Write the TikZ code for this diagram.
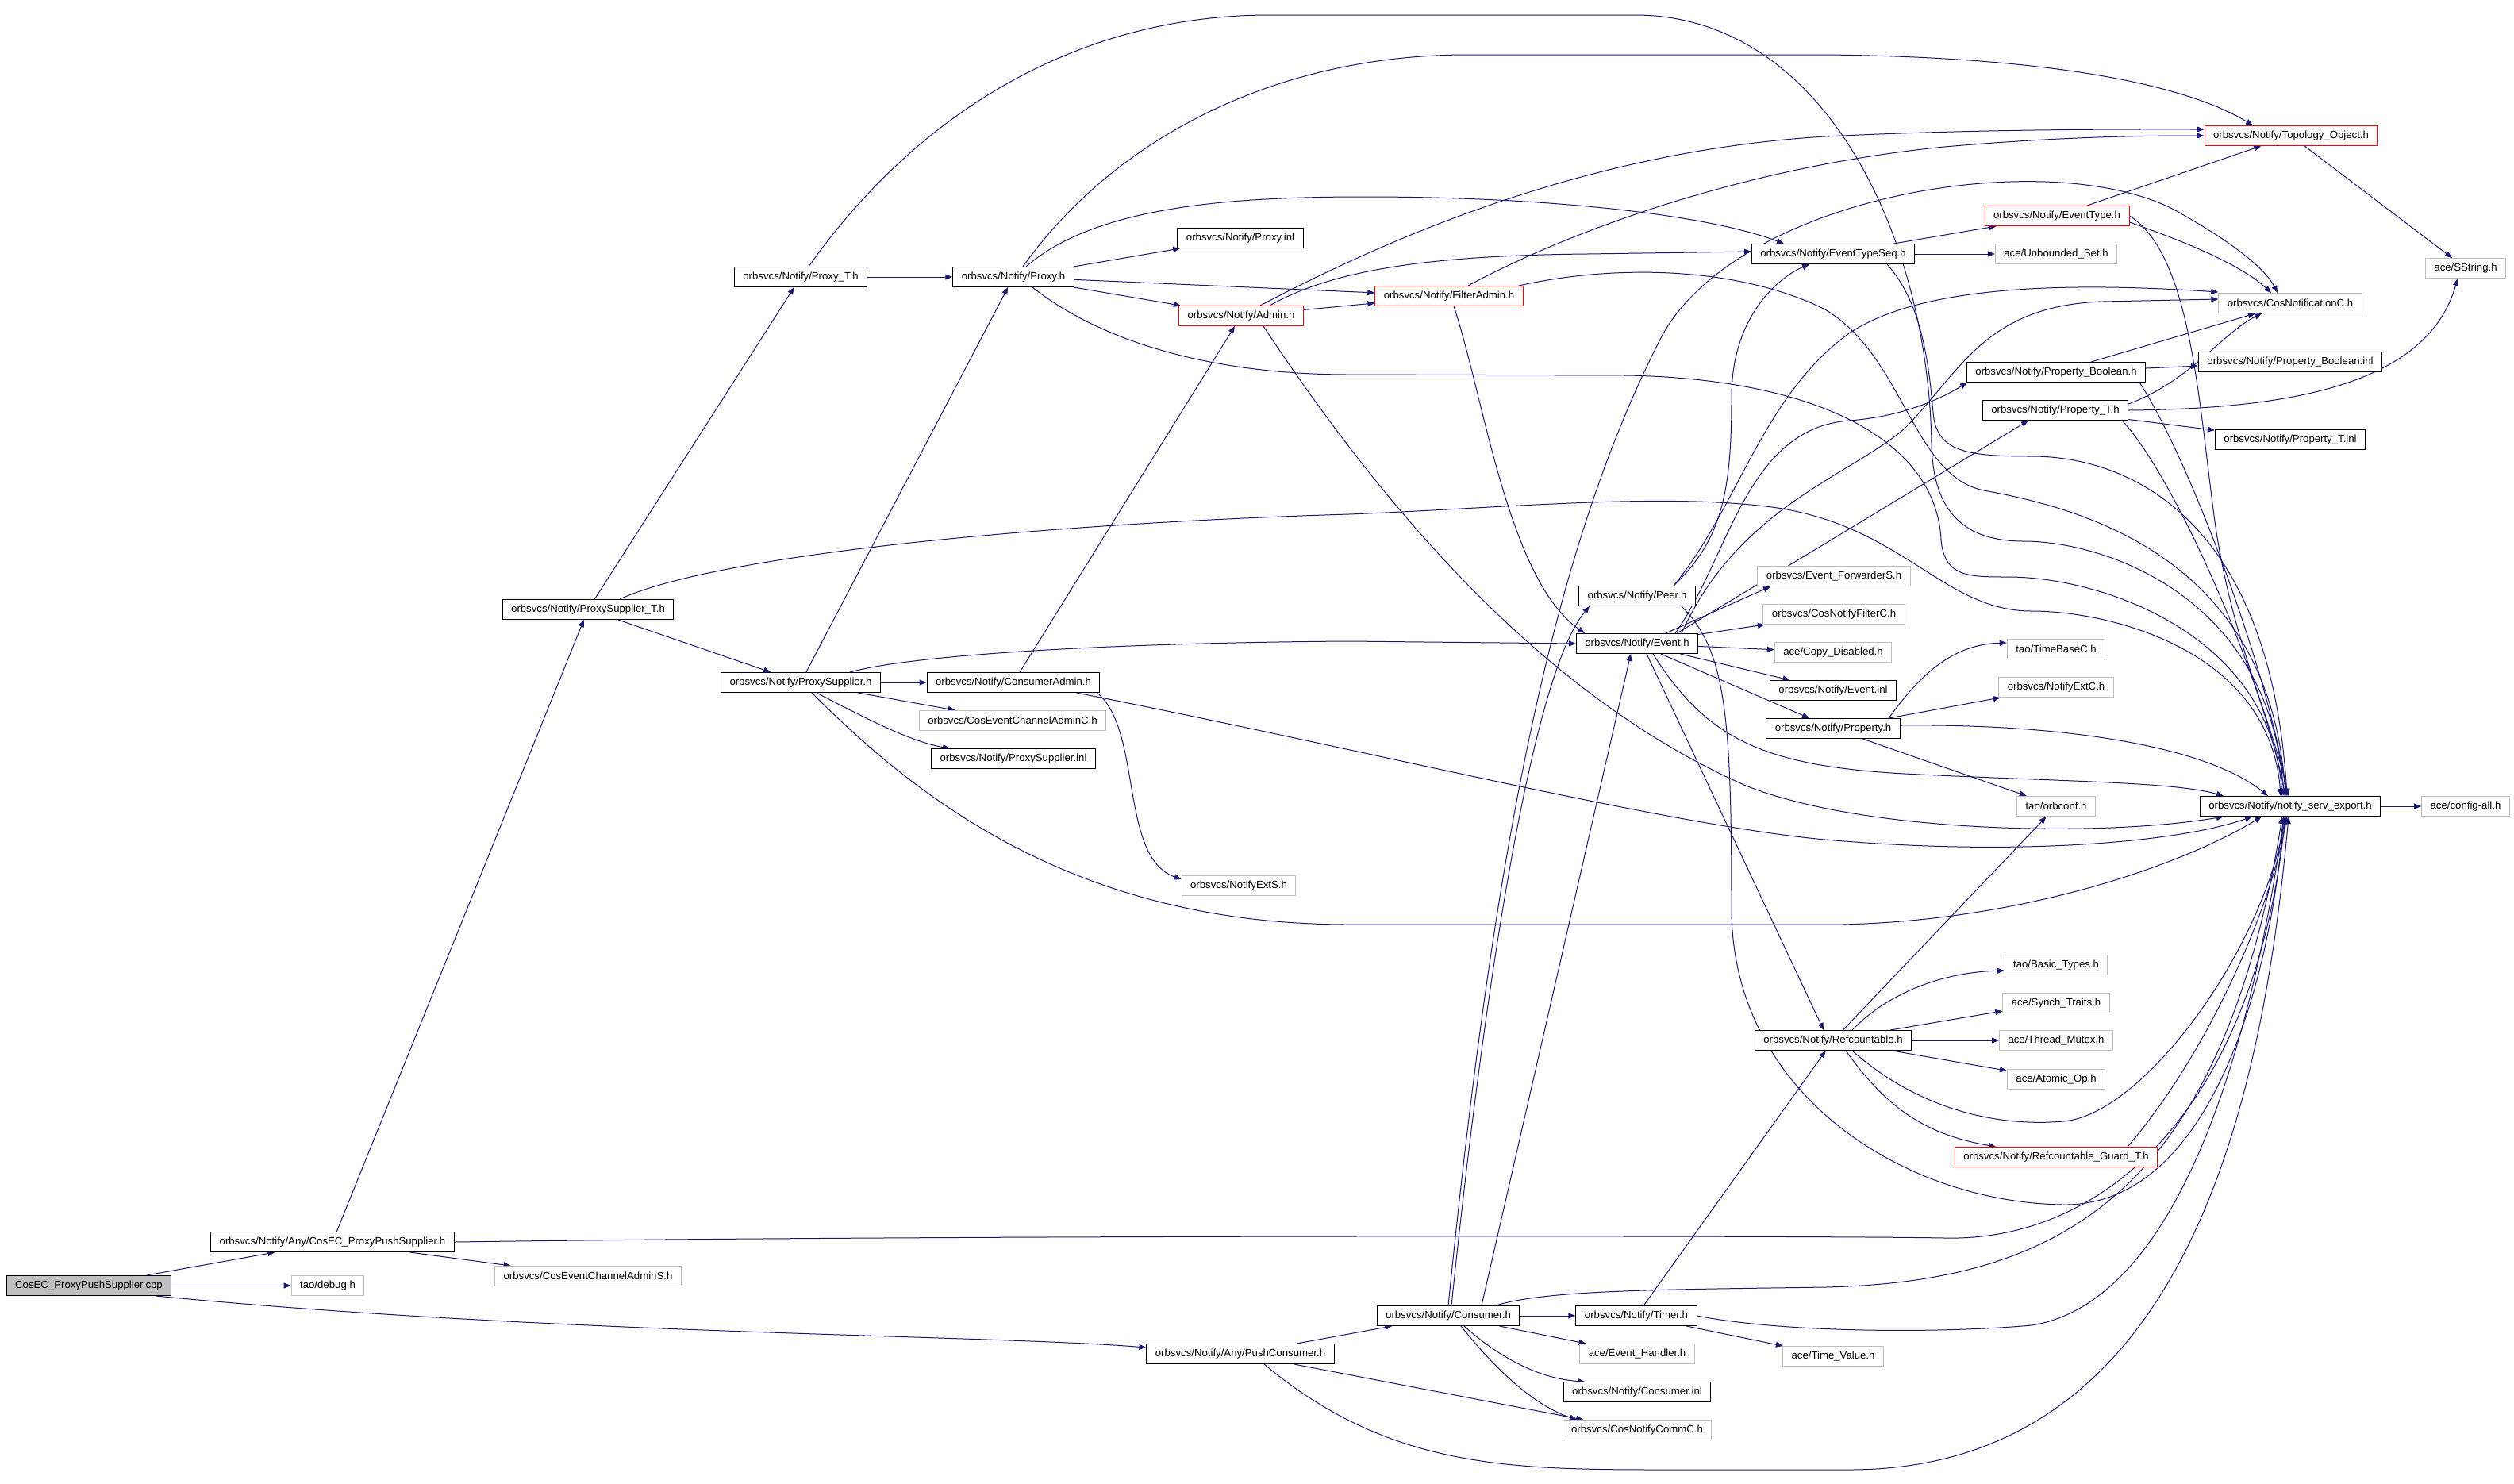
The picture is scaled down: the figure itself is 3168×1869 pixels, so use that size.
\documentclass[tikz,border=0pt]{standalone}
\usepackage{fontspec}
\setmainfont{Liberation Sans}
\usetikzlibrary{arrows.meta,backgrounds}

\definecolor{incblue}{HTML}{191970}
\definecolor{boxgray}{HTML}{BFBFBF}

\tikzset{
  hdr/.style={draw=black, line width=0.5pt, fill=white, inner xsep=5.5pt, inner ysep=0pt,
    minimum height=12.5pt, font=\fontsize{6.6}{7.5}\selectfont},
  ext/.style={hdr, draw=boxgray},
  redhdr/.style={hdr, draw=red},
  root/.style={hdr, fill=boxgray},
  incl/.style={draw=incblue, line width=0.5pt, -{Triangle[length=4.5pt,width=3.5pt]}}
}

\begin{document}
\begin{tikzpicture}[x=0.5pt,y=-0.5pt]
  \useasboundingbox (0,0) rectangle (3168,1869);

  % files
  \node[root] (cpp) at (112,1620) {CosEC\_ProxyPushSupplier.cpp};
  \node[hdr] (anypps) at (419,1565) {orbsvcs/Notify/Any/CosEC\_ProxyPushSupplier.h};
  \node[ext] (debug) at (413,1620) {tao/debug.h};
  \node[ext] (ecas) at (741,1608) {orbsvcs/CosEventChannelAdminS.h};
  \node[hdr] (pushc) at (1563,1706) {orbsvcs/Notify/Any/PushConsumer.h};
  \node[hdr] (psupt) at (741,768) {orbsvcs/Notify/ProxySupplier\_T.h};
  \node[hdr] (proxyt) at (1009,349) {orbsvcs/Notify/Proxy\_T.h};
  \node[hdr] (proxy) at (1277,349) {orbsvcs/Notify/Proxy.h};
  \node[hdr] (proxyinl) at (1563,300) {orbsvcs/Notify/Proxy.inl};
  \node[redhdr] (admin) at (1564,398) {orbsvcs/Notify/Admin.h};
  \node[redhdr] (fadmin) at (1826,373) {orbsvcs/Notify/FilterAdmin.h};
  \node[hdr] (etseq) at (2310,320) {orbsvcs/Notify/EventTypeSeq.h};
  \node[redhdr] (etype) at (2592,272) {orbsvcs/Notify/EventType.h};
  \node[redhdr] (topo) at (2887,171) {orbsvcs/Notify/Topology\_Object.h};
  \node[ext] (sstr) at (3107,338) {ace/SString.h};
  \node[ext] (uset) at (2591,320) {ace/Unbounded\_Set.h};
  \node[ext] (cnc) at (2886,382) {orbsvcs/CosNotificationC.h};
  \node[hdr] (pbool) at (2591,469) {orbsvcs/Notify/Property\_Boolean.h};
  \node[hdr] (pboolinl) at (2886,456) {orbsvcs/Notify/Property\_Boolean.inl};
  \node[hdr] (propt) at (2590,517) {orbsvcs/Notify/Property\_T.h};
  \node[hdr] (proptinl) at (2886,554) {orbsvcs/Notify/Property\_T.inl};
  \node[hdr] (psup) at (1009,860) {orbsvcs/Notify/ProxySupplier.h};
  \node[hdr] (cadmin) at (1277,860) {orbsvcs/Notify/ConsumerAdmin.h};
  \node[ext] (ecac) at (1276,908) {orbsvcs/CosEventChannelAdminC.h};
  \node[hdr] (psupinl) at (1277,956) {orbsvcs/Notify/ProxySupplier.inl};
  \node[ext] (nexts) at (1561,1116) {orbsvcs/NotifyExtS.h};
  \node[hdr] (peer) at (2063,751) {orbsvcs/Notify/Peer.h};
  \node[hdr] (event) at (2063,811) {orbsvcs/Notify/Event.h};
  \node[ext] (efwd) at (2311,726) {orbsvcs/Event\_ForwarderS.h};
  \node[ext] (cnfc) at (2311,774) {orbsvcs/CosNotifyFilterC.h};
  \node[ext] (cdis) at (2310,822) {ace/Copy\_Disabled.h};
  \node[hdr] (einl) at (2310,870) {orbsvcs/Notify/Event.inl};
  \node[hdr] (prop) at (2310,918) {orbsvcs/Notify/Property.h};
  \node[ext] (tbase) at (2591,818) {tao/TimeBaseC.h};
  \node[ext] (nextc) at (2591,866) {orbsvcs/NotifyExtC.h};
  \node[ext] (orbconf) at (2591,1016) {tao/orbconf.h};
  \node[hdr] (nse) at (2886,1016) {orbsvcs/Notify/notify\_serv\_export.h};
  \node[ext] (cfg) at (3107,1016) {ace/config-all.h};
  \node[ext] (btypes) at (2591,1216) {tao/Basic\_Types.h};
  \node[ext] (synch) at (2591,1264) {ace/Synch\_Traits.h};
  \node[ext] (tmutex) at (2591,1311) {ace/Thread\_Mutex.h};
  \node[ext] (atomic) at (2591,1360) {ace/Atomic\_Op.h};
  \node[hdr] (refc) at (2310,1311) {orbsvcs/Notify/Refcountable.h};
  \node[redhdr] (rguard) at (2591,1458) {orbsvcs/Notify/Refcountable\_Guard\_T.h};
  \node[hdr] (cons) at (1825,1658) {orbsvcs/Notify/Consumer.h};
  \node[hdr] (timer) at (2062,1658) {orbsvcs/Notify/Timer.h};
  \node[ext] (evh) at (2063,1706) {ace/Event\_Handler.h};
  \node[hdr] (consinl) at (2063,1754) {orbsvcs/Notify/Consumer.inl};
  \node[ext] (commc) at (2063,1802) {orbsvcs/CosNotifyCommC.h};
  \node[ext] (tval) at (2310,1709) {ace/Time\_Value.h};

  \begin{scope}[on background layer]
    \fill[white] (0,0) rectangle (3168,1869);

    % CosEC_ProxyPushSupplier.cpp
    \draw[incl] (cpp) -- (anypps);
    \draw[incl] (cpp) -- (debug);
    \draw[incl] ([xshift=-10pt]cpp.south east) .. controls (700,1682) and (1250,1682) .. ([yshift=4pt]pushc.west);

    % Any/CosEC_ProxyPushSupplier.h
    \draw[incl] (anypps) -- (ecas);
    \draw[incl] (anypps) -- (psupt);
    \draw[incl] (anypps.east) .. controls (1200,1556) and (2300,1557) .. (2450,1560)
      .. controls (2650,1565) and (2840,1400) .. ([xshift=-3pt]nse.south);

    % ProxySupplier_T.h
    \draw[incl] (psupt) -- (proxyt);
    \draw[incl] (psupt) -- (psup);
    \draw[incl] ([xshift=20pt]psupt.north) .. controls (900,700) and (1300,660) .. (1700,648)
      .. controls (1900,640) and (2100,620) .. (2240,640)
      .. controls (2400,665) and (2450,770) .. (2560,770)
      .. controls (2660,770) and (2860,820) .. ([xshift=-6pt]nse.north);

    % Proxy_T.h and Proxy.h
    \draw[incl] (proxyt) -- (proxy);
    \draw[incl] ([xshift=5pt]proxyt.north) .. controls (1150,150) and (1350,19) .. (1600,19) -- (2060,19)
      .. controls (2300,19) and (2430,300) .. (2434,560)
      .. controls (2436,650) and (2480,682) .. (2550,682)
      .. controls (2650,682) and (2860,750) .. ([xshift=-4pt]nse.north);
    \draw[incl] (proxy) -- (proxyinl);
    \draw[incl] (proxy) -- (admin);
    \draw[incl] (proxy) -- (fadmin);
    \draw[incl] ([xshift=8pt]proxy.north) .. controls (1380,260) and (1550,248) .. (1720,248)
      .. controls (1950,248) and (2150,270) .. ([xshift=-31pt]etseq.north);
    \draw[incl] ([xshift=6pt]proxy.north) .. controls (1400,180) and (1600,69) .. (1850,69) -- (2300,69)
      .. controls (2600,72) and (2760,110) .. ([xshift=-24pt]topo.north);
    \draw[incl] ([xshift=12pt]proxy.south) .. controls (1400,440) and (1550,472) .. (1700,472) -- (2050,473)
      .. controls (2300,478) and (2440,560) .. (2446,680)
      .. controls (2450,727) and (2480,727) .. (2530,727)
      .. controls (2650,727) and (2860,800) .. ([xshift=-5pt]nse.north);

    % Admin.h and FilterAdmin.h
    \draw[incl] (admin) -- (fadmin);
    \draw[incl] ([xshift=12pt]admin.north) .. controls (1750,300) and (2000,190) .. (2300,172)
      .. controls (2500,162) and (2700,163) .. ([yshift=4pt]topo.west);
    \draw[incl] ([xshift=18pt]admin.north) .. controls (1680,340) and (1800,322) .. (2000,320)
      -- ([yshift=1.5pt]etseq.west);
    \draw[incl] ([xshift=14pt]admin.south) .. controls (1750,650) and (1950,880) .. (2200,990)
      .. controls (2350,1050) and (2650,1055) .. ([xshift=-42pt]nse.south);
    \draw[incl] ([xshift=12pt]fadmin.north) .. controls (1980,290) and (2200,210) .. (2450,185)
      .. controls (2600,172) and (2700,171) .. (topo.west);
    \draw[incl] ([xshift=3pt]fadmin.south) .. controls (1870,500) and (1900,730) .. ([xshift=-33pt]event.north);
    \draw[incl] ([xshift=-3pt]fadmin.north east) .. controls (2050,330) and (2200,340) .. (2300,390)
      .. controls (2400,450) and (2410,600) .. (2500,618)
      .. controls (2620,640) and (2860,700) .. ([xshift=-3pt]nse.north);

    % EventTypeSeq.h, EventType.h, Topology_Object.h
    \draw[incl] (etseq) -- (etype);
    \draw[incl] (etseq) -- (uset);
    \draw[incl] ([xshift=34pt]etseq.south) .. controls (2420,380) and (2430,450) .. (2436,520)
      .. controls (2440,570) and (2480,575) .. (2560,575)
      .. controls (2680,575) and (2860,650) .. ([xshift=-2pt]nse.north);
    \draw[incl] (etype) -- (topo);
    \draw[incl] ([yshift=-4pt]etype.east) .. controls (2740,300) and (2820,330) .. ([xshift=-12pt]cnc.north);
    \draw[incl] (etype.east) .. controls (2760,320) and (2770,500) .. (2790,650)
      .. controls (2810,800) and (2860,900) .. ([xshift=-1pt]nse.north);
    \draw[incl] (topo) -- (sstr);

    % Property_Boolean.h and Property_T.h
    \draw[incl] (pbool) -- (cnc);
    \draw[incl] (pbool) -- (pboolinl);
    \draw[incl] ([xshift=-4pt]pbool.south east) .. controls (2760,580) and (2860,850) .. ([xshift=-2pt]nse.north);
    \draw[incl] ([yshift=4pt]propt.east) .. controls (2760,480) and (2800,420) .. ([xshift=-18pt]cnc.south);
    \draw[incl] (propt) -- (proptinl);
    \draw[incl] (propt.east) .. controls (2900,515) and (3060,480) .. ([xshift=-5pt]sstr.south);
    \draw[incl] ([xshift=-4pt]propt.south east) .. controls (2740,600) and (2850,850) .. ([xshift=-3pt]nse.north);
    \draw[incl] (nse) -- (cfg);

    % ProxySupplier.h and ConsumerAdmin.h
    \draw[incl] (psup) -- (cadmin);
    \draw[incl] (psup) -- (ecac);
    \draw[incl] ([xshift=10pt]psup.south) .. controls (1100,910) and (1150,935) .. ([xshift=-40pt]psupinl.north);
    \draw[incl] (psup) -- (proxy);
    \draw[incl] ([xshift=31pt]psup.north) .. controls (1150,825) and (1400,810) .. (1700,808) -- (event.west);
    \draw[incl] ([xshift=7pt]psup.south) .. controls (1150,1000) and (1350,1165) .. (1700,1165) -- (2320,1165)
      .. controls (2550,1160) and (2750,1090) .. ([xshift=-18pt]nse.south);
    \draw[incl] (cadmin) -- (admin);
    \draw[incl] ([xshift=-2pt]cadmin.south east) .. controls (1440,920) and (1410,1080) .. ([yshift=4pt]nexts.west);
    \draw[incl] ([xshift=-15pt]cadmin.south east) .. controls (1700,940) and (2100,1040) .. (2300,1058)
      .. controls (2550,1080) and (2750,1060) .. ([xshift=-24pt]nse.south);

    % Peer.h
    \draw[incl] ([xshift=23pt]peer.north) .. controls (2170,680) and (2182,620) .. (2182,500)
      .. controls (2182,400) and (2240,350) .. ([xshift=-15pt]etseq.south);
    \draw[incl] ([xshift=23pt]peer.north) .. controls (2190,640) and (2220,500) .. (2330,420)
      .. controls (2420,360) and (2600,355) .. ([yshift=7pt]cnc.west);
    \draw[incl] ([xshift=28pt]peer.south) .. controls (2175,820) and (2182,900) .. (2182,1150)
      .. controls (2185,1380) and (2400,1515) .. (2600,1518)
      .. controls (2780,1520) and (2860,1250) .. ([xshift=-4pt]nse.south);

    % Event.h
    \draw[incl] ([xshift=18pt]event.north) -- ([xshift=-40pt]efwd.south);
    \foreach \t in {cnfc,cdis,einl,prop}
      \draw[incl] (event) -- (\t);
    \draw[incl] ([xshift=6pt]event.south) -- ([xshift=-6pt]refc.north);
    \draw[incl] ([xshift=25pt]event.north) -- ([xshift=-17pt]propt.south);
    \draw[incl] ([xshift=24pt]event.north) .. controls (2180,700) and (2200,540) .. (2330,530)
      .. controls (2400,525) and (2450,500) .. ([xshift=-56pt]pbool.south);
    \draw[incl] ([xshift=28pt]event.north) .. controls (2190,640) and (2330,600) .. (2400,540)
      .. controls (2470,470) and (2500,385) .. (2650,380) -- ([yshift=2.5pt]cnc.west);
    \draw[incl] ([xshift=10pt]event.south) .. controls (2150,930) and (2220,965) .. (2400,975)
      .. controls (2600,985) and (2740,985) .. ([xshift=-42pt]nse.north);

    % Property.h
    \draw[incl] ([xshift=35pt]prop.north) .. controls (2420,850) and (2460,812) .. ([yshift=4pt]tbase.west);
    \draw[incl] (prop) -- (nextc);
    \draw[incl] (prop) -- (orbconf);
    \draw[incl] ([yshift=2pt]prop.east) .. controls (2600,912) and (2780,940) .. ([xshift=-14pt]nse.north);

    % Refcountable.h
    \draw[incl] ([xshift=12pt]refc.north) .. controls (2380,1250) and (2450,1225) .. ([yshift=-3.5pt]btypes.west);
    \draw[incl] ([xshift=36pt]refc.north) -- ([yshift=-5pt]synch.west);
    \foreach \t in {tmutex,atomic,orbconf}
      \draw[incl] (refc) -- (\t);
    \draw[incl] ([xshift=8pt]refc.south) .. controls (2380,1400) and (2430,1430) .. ([xshift=-38pt]rguard.north);
    \draw[incl] ([xshift=12pt]refc.south) .. controls (2420,1400) and (2520,1420) .. (2600,1413)
      .. controls (2700,1405) and (2850,1200) .. ([xshift=-3pt]nse.south);
    \draw[incl] ([xshift=45pt]rguard.north) .. controls (2780,1330) and (2860,1150) .. ([xshift=-2pt]nse.south);

    % Consumer.h and Timer.h
    \draw[incl] ([xshift=2pt]cons.north) .. controls (1870,1250) and (1930,850) .. ([xshift=-30pt]peer.south);
    \draw[incl] ([xshift=21pt]cons.north) -- ([xshift=-4pt]event.south);
    \draw[incl] (cons.north) .. controls (1880,1100) and (1950,700) .. (2096,420)
      .. controls (2200,240) and (2600,180) .. (2750,270)
      .. controls (2820,310) and (2855,340) .. ([xshift=-8pt]cnc.north);
    \draw[incl] (cons) -- (timer);
    \draw[incl] (cons) -- (evh);
    \draw[incl] ([xshift=10pt]cons.south) .. controls (1900,1720) and (1950,1738) .. ([xshift=-33pt]consinl.north);
    \draw[incl] ([xshift=8pt]cons.south) .. controls (1880,1720) and (1930,1770) .. ([xshift=-38pt]commc.north);
    \draw[incl] ([xshift=30pt]cons.north) .. controls (1950,1625) and (2100,1625) .. (2300,1622)
      .. controls (2600,1615) and (2800,1500) .. ([xshift=-5pt]nse.south);
    \draw[incl] (timer) -- (refc);
    \draw[incl] (timer) -- (tval);
    \draw[incl] (timer.east) .. controls (2250,1680) and (2450,1680) .. (2560,1670)
      .. controls (2750,1640) and (2840,1300) .. ([xshift=-4pt]nse.south);

    % Any/PushConsumer.h
    \draw[incl] (pushc) -- (cons);
    \draw[incl] (pushc) -- (commc);
    \draw[incl] ([xshift=15pt]pushc.south) .. controls (1750,1850) and (1900,1852) .. (2100,1852) -- (2330,1852)
      .. controls (2750,1852) and (2850,1400) .. ([xshift=-1pt]nse.south);
  \end{scope}
\end{tikzpicture}
\end{document}
